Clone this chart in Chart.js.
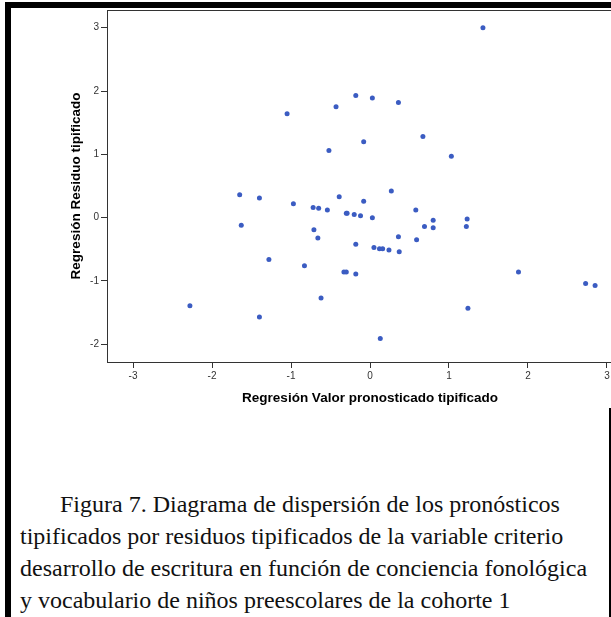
<!DOCTYPE html>
<html lang="es">
<head>
<meta charset="utf-8">
<title>Figura 7</title>
<script src="https://cdn.jsdelivr.net/npm/chart.js@4/dist/chart.umd.min.js"></script>
<style>
  body { margin: 0; background: #fff; width: 611px; height: 617px; overflow: hidden; position: relative; }
  #zone { position: absolute; left: 0; top: 0; }
  .barre { position: absolute; background: #000; z-index: 2; }
  #legende {
    position: absolute; left: 20px; top: 488px; width: 590px;
    font-family: "Liberation Serif", "Times New Roman", serif;
    font-size: 24px; line-height: 32px; color: #111;
  }
  #legende p { margin: 0; white-space: nowrap; }
</style>
</head>
<body>
<div class="barre" style="left:5px;top:2px;width:606px;height:6px"></div>
<div class="barre" style="left:5px;top:2px;width:6px;height:615px"></div>
<div class="barre" style="left:609px;top:408px;width:2px;height:209px"></div>

<div id="zone"><canvas id="graphique" width="640" height="410"></canvas></div>

<div id="legende">
  <p style="padding-left:40px">Figura 7. Diagrama de dispersión de los pronósticos</p>
  <p>tipificados por residuos tipificados de la variable criterio</p>
  <p>desarrollo de escritura en función de conciencia fonológica</p>
  <p>y vocabulario de niños preescolares de la cohorte 1</p>
</div>

<script>
// valores pronosticados tipificados (eje x)
const pronosticos = [
  1.43, -0.18, 0.03, -0.43, 0.36, -1.05, 0.67, -0.08, -0.52, 1.03,
  0.27, -0.39, -0.08, -1.65, -1.40, -0.97, -0.72, -0.65, -0.54, -0.30,
  -0.29, -0.20, -0.12, 0.03, 0.58, 0.80, 1.23, -1.63, -0.71, -0.66,
  0.69, 0.80, 1.22, 0.36, 0.59, -0.18, 0.05, 0.12, 0.16, 0.24,
  0.37, -1.28, -0.83, -0.33, -0.30, -0.18, 1.88, 2.73, 2.85, -0.62,
  -2.28, -1.40, 1.24, 0.13
];
// residuos tipificados (eje y)
const residuos = [
  3.00, 1.93, 1.89, 1.75, 1.82, 1.64, 1.28, 1.20, 1.06, 0.97,
  0.42, 0.33, 0.26, 0.36, 0.31, 0.22, 0.16, 0.15, 0.12, 0.07,
  0.07, 0.05, 0.03, 0.00, 0.12, -0.04, -0.02, -0.12, -0.19, -0.32,
  -0.14, -0.16, -0.14, -0.30, -0.35, -0.42, -0.47, -0.49, -0.49, -0.51,
  -0.54, -0.66, -0.76, -0.86, -0.86, -0.89, -0.86, -1.04, -1.07, -1.27,
  -1.39, -1.57, -1.43, -1.91
];
const ticksX = [-3, -2, -1, 0, 1, 2, 3];
const ticksY = [-2, -1, 0, 1, 2, 3];

const points = pronosticos.map((x, i) => ({ x: x, y: residuos[i] }));

const police = "'Liberation Sans', Arial, sans-serif";

// cadre autour de la zone de tracé
const cadre = {
  id: "cadre",
  afterDatasetsDraw(chart) {
    const { ctx, chartArea: a } = chart;
    ctx.save();
    ctx.strokeStyle = "#333";
    ctx.lineWidth = 1;
    ctx.strokeRect(Math.round(a.left) + 0.5, Math.round(a.top) + 0.5, a.right - a.left, a.bottom - a.top);
    ctx.restore();
  }
};

new Chart(document.querySelector("#graphique"), {
  type: "scatter",
  data: {
    datasets: [{
      data: points,
      backgroundColor: "#3b5cc2",
      borderWidth: 0,
      pointRadius: 2.5
    }]
  },
  options: {
    responsive: false,
    devicePixelRatio: 1,
    animation: false,
    layout: { padding: { top: 10, left: 0, right: 7, bottom: 0 } },
    plugins: { legend: { display: false }, tooltip: { enabled: false } },
    scales: {
      x: {
        type: "linear",
        min: -3.33,
        max: 3.33,
        afterBuildTicks: s => { s.ticks = ticksX.map(v => ({ value: v })); },
        afterFit: s => { s.height = 48; },
        grid: { drawOnChartArea: false, tickLength: 6, tickColor: "#333" },
        border: { display: false },
        ticks: { color: "#333", font: { family: police, size: 10 }, padding: 2, maxRotation: 0 },
        title: {
          display: true,
          text: "Regresión Valor pronosticado tipificado",
          color: "#000",
          font: { family: police, size: 13.5, weight: "bold" },
          padding: { top: 0, bottom: 4 }
        }
      },
      y: {
        type: "linear",
        min: -2.28,
        max: 3.28,
        afterBuildTicks: s => { s.ticks = ticksY.map(v => ({ value: v })); },
        afterFit: s => { s.width = 107; },
        grid: { drawOnChartArea: false, tickLength: 6, tickColor: "#333" },
        border: { display: false },
        ticks: { color: "#333", font: { family: police, size: 10 }, padding: 2 },
        title: {
          display: true,
          text: "Regresión Residuo tipificado",
          color: "#000",
          font: { family: police, size: 13.5, weight: "bold" },
          padding: { top: 68, bottom: 0 }
        }
      }
    }
  },
  plugins: [cadre]
});
</script>
</body>
</html>
